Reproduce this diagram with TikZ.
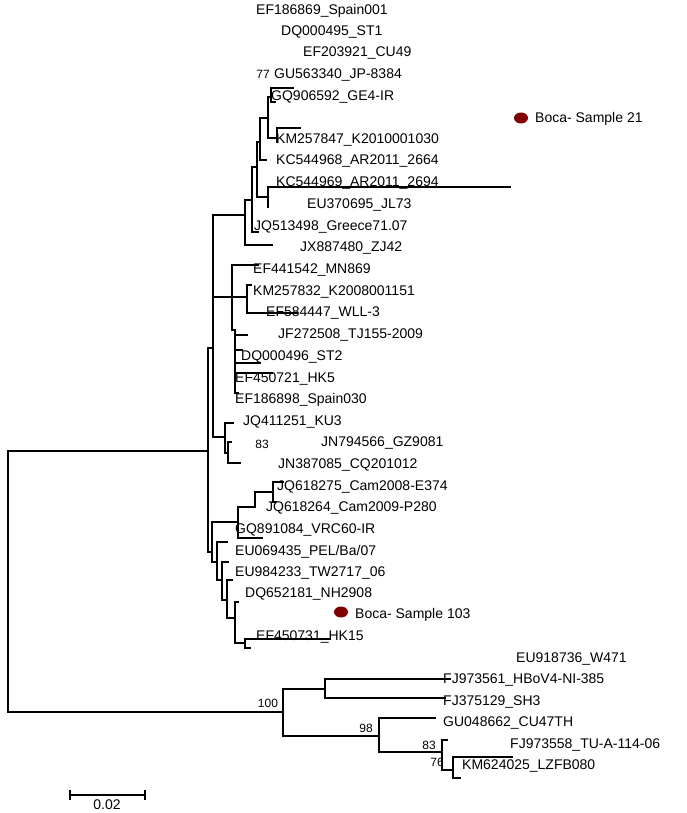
\documentclass[tikz,border=0pt]{standalone}
\usepackage{fontspec}
\setmainfont{Liberation Sans}
\newcommand\lblfont{\fontsize{14}{15}\selectfont}
\newcommand\bsfont{\fontsize{12}{13}\selectfont}
\definecolor{dotred}{RGB}{128,0,0}
\tikzset{
  br/.style={line width=1.2pt, line cap=rect},
  lab/.style={anchor=west, inner sep=0pt, font=\lblfont, text height=10pt, text depth=0pt},
  bsv/.style={anchor=center, inner sep=0pt, font=\bsfont, text height=8.5pt, text depth=0pt},
  dot/.style={ellipse, fill=dotred, minimum width=14pt, minimum height=11pt, inner sep=0pt}
}
\usetikzlibrary{shapes.geometric}
\begin{document}
\begin{tikzpicture}[x=1pt,y=-1pt]
\useasboundingbox (0,0) rectangle (686,813);
% ---------- labels ----------
\node[lab] (l1) at (256,10) {EF186869\_Spain001};
\node[lab] (l2) at (281,31) {DQ000495\_ST1};
\node[lab] (l3) at (303,52) {EF203921\_CU49};
\node[lab] (l4) at (274,74) {GU563340\_JP-8384};
\node[lab] (l5) at (271,96) {GQ906592\_GE4-IR};
\node[lab] (l6) at (276,139) {KM257847\_K2010001030};
\node[lab] (l7) at (276,160) {KC544968\_AR2011\_2664};
\node[lab] (l8) at (276,181) {KC544969\_AR2011\_2694};
\node[lab] (l9) at (307,203) {EU370695\_JL73};
\node[lab] (l10) at (254,225) {JQ513498\_Greece71.07};
\node[lab] (l11) at (300,246) {JX887480\_ZJ42};
\node[lab] (l12) at (253,268) {EF441542\_MN869};
\node[lab] (l13) at (253,290) {KM257832\_K2008001151};
\node[lab] (l14) at (266,311) {EF584447\_WLL-3};
\node[lab] (l15) at (278,333) {JF272508\_TJ155-2009};
\node[lab] (l16) at (241,355) {DQ000496\_ST2};
\node[lab] (l17) at (235,377) {EF450721\_HK5};
\node[lab] (l18) at (235,398) {EF186898\_Spain030};
\node[lab] (l19) at (243,420) {JQ411251\_KU3};
\node[lab] (l20) at (321,441) {JN794566\_GZ9081};
\node[lab] (l21) at (278,463) {JN387085\_CQ201012};
\node[lab] (l22) at (277,485) {JQ618275\_Cam2008-E374};
\node[lab] (l23) at (266,506) {JQ618264\_Cam2009-P280};
\node[lab] (l24) at (235,528) {GQ891084\_VRC60-IR};
\node[lab] (l25) at (235,550) {EU069435\_PEL/Ba/07};
\node[lab] (l26) at (235,571) {EU984233\_TW2717\_06};
\node[lab] (l27) at (245,592) {DQ652181\_NH2908};
\node[lab] (l28) at (355,613) {Boca- Sample 103};
\node[lab] (l29) at (256,635) {EF450731\_HK15};
\node[lab] (l30) at (516,657) {EU918736\_W471};
\node[lab] (l31) at (443,678) {FJ973561\_HBoV4-NI-385};
\node[lab] (l32) at (443,700) {FJ375129\_SH3};
\node[lab] (l33) at (443,721) {GU048662\_CU47TH};
\node[lab] (l34) at (510,743) {FJ973558\_TU-A-114-06};
\node[lab] (l35) at (462,764) {KM624025\_LZFB080};
\node[lab] (l36) at (535,118) {Boca- Sample 21};
\node[dot] (d1) at (521,118) {};
\node[dot] (d2) at (341,612) {};
% bootstrap values
\node[bsv] (b77) at (263,74) {77};
\node[bsv] (b83a) at (262,444) {83};
\node[bsv] (b100) at (268,703) {100};
\node[bsv] (b98) at (366,728) {98};
\node[bsv] (b83b) at (429,745) {83};
\node[bsv] (b76) at (437,762) {76};
% ---------- branches ----------
% root
\draw[br] (208,451) -- (8,451) -- (8,712) -- (283,712);
% upper clade
\draw[br] (208,348) -- (208,552);
\draw[br] (208,348) -- (213,348);
\draw[br] (213,215) -- (213,437);
\draw[br] (213,215) -- (245,215);
% top sub-clade
\draw[br] (245,200) -- (245,245) -- (272,245);
\draw[br] (245,200) -- (252,200);
\draw[br] (252,167) -- (252,232) -- (258,232);
\draw[br] (252,167) -- (257,167);
\draw[br] (257,142) -- (257,197) -- (268,197);
\draw[br] (257,142) -- (260,142);
\draw[br] (268,187) -- (268,207);
\draw[br] (268,187) -- (510,187);
\draw[br] (260,118) -- (260,160) -- (266,160);
\draw[br] (260,118) -- (268,118);
\draw[br] (268,97) -- (268,138) -- (277,138);
\draw[br] (268,97) -- (271,97);
\draw[br] (277,128) -- (277,142);
\draw[br] (277,128) -- (300,128);
\draw[br] (271,88) -- (271,102) -- (275,102);
\draw[br] (271,88) -- (293,88);
% ST2 sub-clade
\draw[br] (213,297) -- (247,297);
\draw[br] (232,265) -- (232,330) -- (235,330);
\draw[br] (232,265) -- (258,265);
\draw[br] (247,285) -- (247,313) -- (297,313);
\draw[br] (247,285) -- (251,285);
\draw[br] (235,330) -- (235,393) -- (238,393);
\draw[br] (235,335) -- (247,335);
\draw[br] (235,350) -- (242,350);
\draw[br] (235,363) -- (260,363);
\draw[br] (235,373) -- (272,373);
% KU3 sub-clade
\draw[br] (213,437) -- (225,437);
\draw[br] (225,423) -- (225,453) -- (228,453);
\draw[br] (225,423) -- (233,423);
\draw[br] (228,442) -- (228,463) -- (240,463);
\draw[br] (228,442) -- (231,442);
% lower part of upper clade
\draw[br] (208,552) -- (212,552);
\draw[br] (212,522) -- (212,562) -- (217,562);
\draw[br] (212,522) -- (238,522);
\draw[br] (238,507) -- (238,538) -- (262,538);
\draw[br] (238,507) -- (255,507);
\draw[br] (255,492) -- (255,507);
\draw[br] (255,492) -- (273,492);
\draw[br] (273,482) -- (273,502) -- (276,502);
\draw[br] (273,482) -- (283,482);
\draw[br] (217,542) -- (217,580) -- (222,580);
\draw[br] (217,542) -- (227,542);
\draw[br] (222,562) -- (222,600) -- (227,600);
\draw[br] (222,562) -- (228,562);
\draw[br] (227,580) -- (227,618) -- (235,618);
\draw[br] (227,580) -- (232,580);
\draw[br] (235,602) -- (235,643) -- (245,643);
\draw[br] (235,602) -- (238,602);
\draw[br] (245,639) -- (245,648) -- (250,648);
\draw[br] (245,639) -- (330,639);
% bottom clade
\draw[br] (283,689) -- (283,736) -- (379,736);
\draw[br] (283,689) -- (325,689);
\draw[br] (325,679) -- (325,698) -- (445,698);
\draw[br] (325,679) -- (450,679);
\draw[br] (379,718) -- (379,752) -- (442,752);
\draw[br] (379,718) -- (435,718);
\draw[br] (442,740) -- (442,770) -- (453,770);
\draw[br] (442,740) -- (447,740);
\draw[br] (453,757) -- (453,778) -- (460,778);
\draw[br] (453,757) -- (512,757);
% scale bar
\coordinate (s1) at (70,795);
\coordinate (s2) at (145,795);
\draw[br] (s1) -- (s2);
\draw[br] ([yshift=-4pt]s1) -- ([yshift=4pt]s1);
\draw[br] ([yshift=-4pt]s2) -- ([yshift=4pt]s2);
\node[bsv, font=\lblfont] (sc) at (107,805) {0.02};
\end{tikzpicture}
\end{document}
